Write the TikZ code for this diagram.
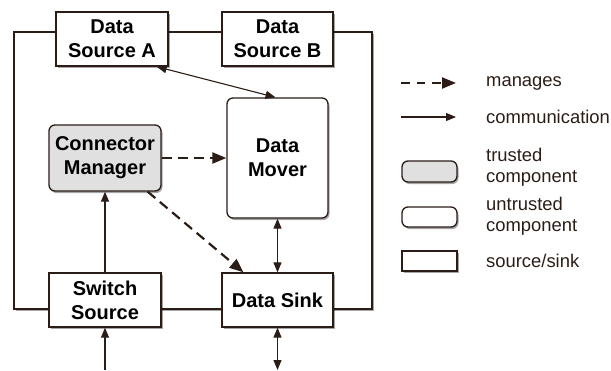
\documentclass[tikz,border=0pt]{standalone}
\usepackage{fontspec}
\setmainfont{Liberation Sans}
\usetikzlibrary{arrows.meta,shadows}
\definecolor{linec}{HTML}{2A1D18}
\definecolor{trustfill}{HTML}{E0E0E0}
\tikzset{
  shad/.style={drop shadow={shadow xshift=1.5pt,shadow yshift=-2pt,opacity=.35,fill=black}},
  srcbox/.style={draw=linec,line width=1.3pt,fill=white,shad,align=center,
    font=\bfseries\fontsize{20}{24}\selectfont,inner sep=0pt},
  compbox/.style={srcbox,rounded corners=6pt},
  trusted/.style={compbox,fill=trustfill},
  comm/.style={draw=linec,line width=1.1pt,-{Triangle[length=10pt,width=8pt]}},
  commboth/.style={comm,{Triangle[length=10pt,width=8pt]}-{Triangle[length=10pt,width=8pt]}},
  manage/.style={draw=linec,line width=2.2pt,dash pattern=on 10pt off 6pt,
    -{Triangle[length=14pt,width=11pt]}},
  legtext/.style={anchor=west,align=left,font=\fontsize{18.4}{21.5}\selectfont,inner sep=0pt,text=linec},
  legshape/.style={draw=linec,line width=1.3pt,fill=white,shad}
}
\begin{document}
\begin{tikzpicture}[x=1pt,y=-1pt]
\useasboundingbox (0,0) rectangle (611,370);
% outer boundary
\draw[draw=linec,line width=1.3pt,fill=white,shad] (14,32) rectangle (372,309);
% boxes
\node[srcbox,minimum width=112pt,minimum height=54pt] (DSA) at (112,39) {Data\\Source A};
\node[srcbox,minimum width=111pt,minimum height=54pt] (DSB) at (277.5,39) {Data\\Source B};
\node[compbox,minimum width=101pt,minimum height=120pt] (DM) at (277.5,158) {Data\\Mover};
\node[trusted,minimum width=112pt,minimum height=66pt] (CM) at (105,158) {Connector\\Manager};
\node[srcbox,minimum width=112pt,minimum height=54pt] (SS) at (105,300) {Switch\\Source};
\node[srcbox,minimum width=111pt,minimum height=54pt] (DS) at (277.5,300) {Data Sink};
\coordinate (ssin) at (105,370);
\coordinate (dsout) at (277.5,370);
% connectors
\draw[commboth] ([xshift=-12pt]DSA.south east) -- ([xshift=-2pt]DM.north);
\draw[manage] (CM.east) -- (DM.west);
\draw[manage] ([xshift=-14pt]CM.south east) -- ([xshift=-34pt]DS.north);
\draw[comm] (SS.north) -- (CM.south);
\draw[commboth] (DM.south) -- (DS.north);
\draw[comm] (ssin) -- (SS.south);
\draw[commboth] (DS.south) -- (dsout);
% legend
\coordinate (l1a) at (401,83); \coordinate (l1b) at (456,83);
\coordinate (l2a) at (401,117); \coordinate (l2b) at (456,117);
\draw[manage,dash pattern=on 8.5pt off 7pt] (l1a) -- (l1b);
\draw[comm] (l2a) -- (l2b);
\node[legtext] (t1) at (486,83) {manages};
\node[legtext] (t2) at (486,117) {communication};
\draw[legshape,fill=trustfill,rounded corners=6pt] (402,161) rectangle (457,182);
\node[legtext] (t3) at (486,167) {trusted\\component};
\draw[legshape,rounded corners=6pt] (402,207) rectangle (457,227);
\node[legtext] (t4) at (486,216) {untrusted\\component};
\draw[legshape] (402,251) rectangle (457,271);
\node[legtext] (t5) at (486,261) {source/sink};
\end{tikzpicture}
\end{document}
